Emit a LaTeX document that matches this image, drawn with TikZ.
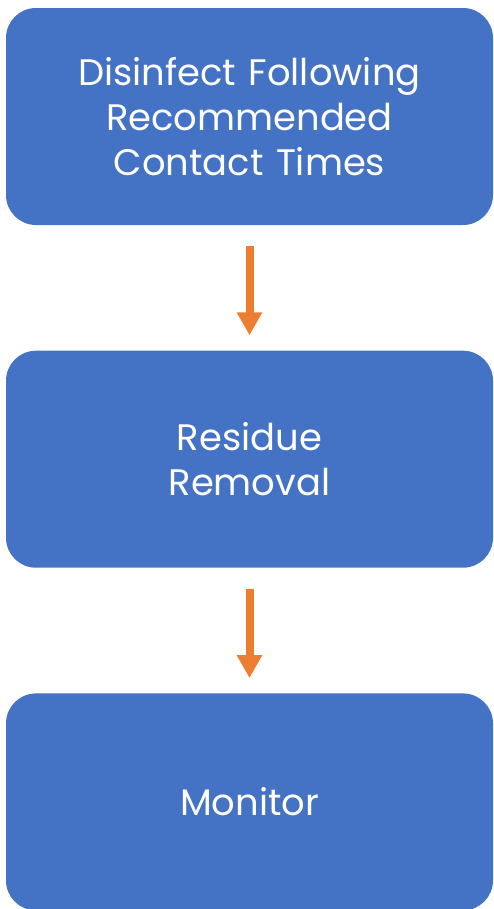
\documentclass[tikz,border=0pt]{standalone}
\usepackage{fontspec}
\setmainfont{Poppins}
\usetikzlibrary{positioning,arrows.meta}

\definecolor{stepblue}{HTML}{4472C4}
\definecolor{steporange}{HTML}{ED7D31}

\tikzset{
  stepbox/.style={fill=stepblue, draw=none, rounded corners=0.6cm,
    minimum width=9.74cm, minimum height=4.34cm, text width=9cm,
    align=center, text=white,
    font=\fontsize{21pt}{25.6pt}\selectfont},
  steparrow/.style={draw=steporange, line width=0.16cm,
    -{Triangle[width=0.48cm,length=0.46cm]}, steporange,
    shorten <=0.42cm, shorten >=0.3cm}
}

\begin{document}
\begin{tikzpicture}[node distance=2.5cm]

\useasboundingbox (0,0) rectangle (9.88,-18.18);

\node[stepbox] (disinfect) at (4.99,-2.33) {Disinfect Following\\Recommended\\Contact Times};
\node[stepbox, below=of disinfect] (residue) {Residue\\Removal};
\node[stepbox, below=of residue] (monitor) {Monitor};

\draw[steparrow] (disinfect) -- (residue);
\draw[steparrow] (residue) -- (monitor);

\end{tikzpicture}
\end{document}
